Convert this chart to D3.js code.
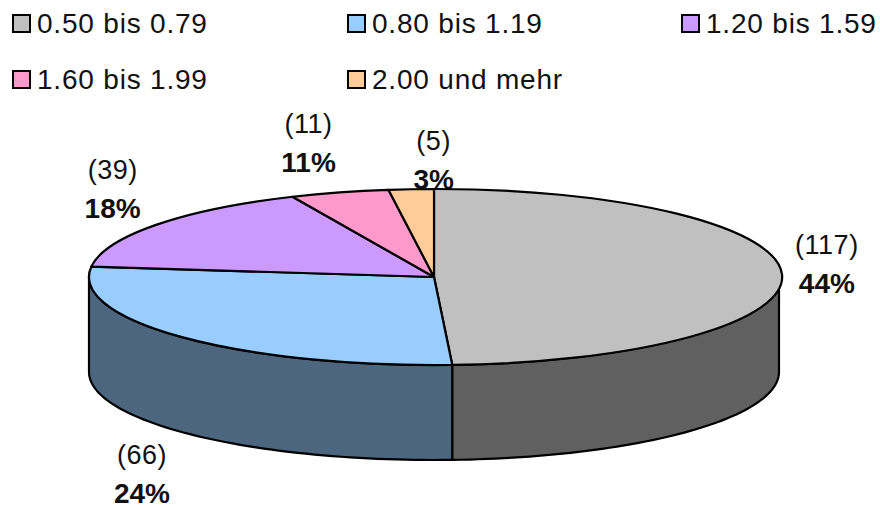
<!DOCTYPE html>
<html>
<head>
<meta charset="utf-8">
<script src="https://cdn.jsdelivr.net/npm/d3@7"></script>
<style>
  body { margin: 0; background: #fff; }
  svg { display: block; font-family: 'Liberation Sans', Arial, sans-serif; }
</style>
</head>
<body>
<div id="chart"></div>
<script>
// data
const categories = ['0.50 bis 0.79', '0.80 bis 1.19', '1.20 bis 1.59', '1.60 bis 1.99', '2.00 und mehr']
const counts = [117, 66, 39, 11, 5]
const percentLabels = ['44%', '24%', '18%', '11%', '3%']

const topColors = ['#C0C0C0', '#99CCFF', '#CC99FF', '#FF99CC', '#FFCC99']

let width = 880,
  height = 509

let cx = 434, cy = 277, rx = 345, ry = 88, depth = 95

let svg = d3.select('#chart').append('svg')
  .attr('width', width)
  .attr('height', height)

let color = d3.scaleOrdinal().domain(categories).range(topColors)
// side walls are the top colour at half brightness
let sideColor = c => d3.color(color(c)).darker(1.94).formatHex()

// legend
let legendPos = [[12, 14], [347, 14], [681, 14], [12, 70], [347, 70]]
let legend = svg.append('g').selectAll('g')
  .data(categories)
  .enter().append('g')
  .attr('transform', (d, i) => 'translate(' + legendPos[i][0] + ',' + legendPos[i][1] + ')')

legend.append('rect')
  .attr('x', 1).attr('y', 1)
  .attr('width', 17).attr('height', 17)
  .attr('fill', d => color(d))
  .attr('stroke', '#000')
  .attr('stroke-width', 2)

legend.append('text')
  .attr('x', 25)
  .attr('y', 19)
  .attr('font-size', 28)
  .attr('letter-spacing', 0.8)
  .attr('fill', '#111')
  .text(d => d)

let pie = d3.pie().sort(null).value(d => d)
let arcs = pie(counts)

function pt (a, dy) {
  return [cx + rx * Math.sin(a), cy - ry * Math.cos(a) + (dy || 0)]
}

// labels (drawn first; the pie overlaps the small one like in Excel)
let nudges = [[-7, -9], [0, 1], [1, 0], [-16, 8], [26, 31]]
let labels = svg.append('g').selectAll('g')
  .data(arcs)
  .enter().append('g')
  .attr('transform', (d, i) => {
    let mid = (d.startAngle + d.endAngle) / 2
    let x = cx + (rx + 55) * Math.sin(mid) + nudges[i][0]
    let y = cy - (ry + 60) * Math.cos(mid) + (Math.cos(mid) < 0 ? depth : 0) + nudges[i][1]
    return 'translate(' + x + ',' + y + ')'
  })

labels.append('text')
  .attr('text-anchor', 'middle')
  .attr('y', -10)
  .attr('font-size', 27)
  .attr('letter-spacing', 0.5)
  .attr('fill', '#111')
  .text(d => '(' + d.data + ')')

labels.append('text')
  .attr('text-anchor', 'middle')
  .attr('y', 29)
  .attr('font-size', 28)
  .attr('font-weight', 'bold')
  .attr('fill', '#111')
  .text((d, i) => percentLabels[i])

let line = d3.line()

// side walls, front half only
let walls = svg.append('g')
arcs.forEach((d, i) => {
  let a0 = Math.max(d.startAngle, Math.PI / 2)
  let a1 = Math.min(d.endAngle, Math.PI * 3 / 2)
  if (a1 <= a0) return
  let top = d3.range(0, 61).map(k => pt(a0 + (a1 - a0) * k / 60))
  let bottom = top.slice().reverse().map(p => [p[0], p[1] + depth])
  walls.append('path')
    .attr('d', line(top.concat(bottom)) + 'Z')
    .attr('fill', sideColor(categories[i]))
    .attr('stroke', '#000')
    .attr('stroke-width', 2.2)
    .attr('stroke-linejoin', 'round')
})

// top faces
let arc = d3.arc().innerRadius(0).outerRadius(1)
svg.append('g')
  .attr('transform', 'translate(' + cx + ',' + cy + ') scale(' + rx + ',' + ry + ')')
  .selectAll('path')
  .data(arcs)
  .enter().append('path')
  .attr('d', arc)
  .attr('fill', (d, i) => color(categories[i]))
  .attr('stroke', '#000')
  .attr('stroke-width', 2.2)
  .attr('stroke-linejoin', 'round')
  .attr('vector-effect', 'non-scaling-stroke')
</script>
</body>
</html>
